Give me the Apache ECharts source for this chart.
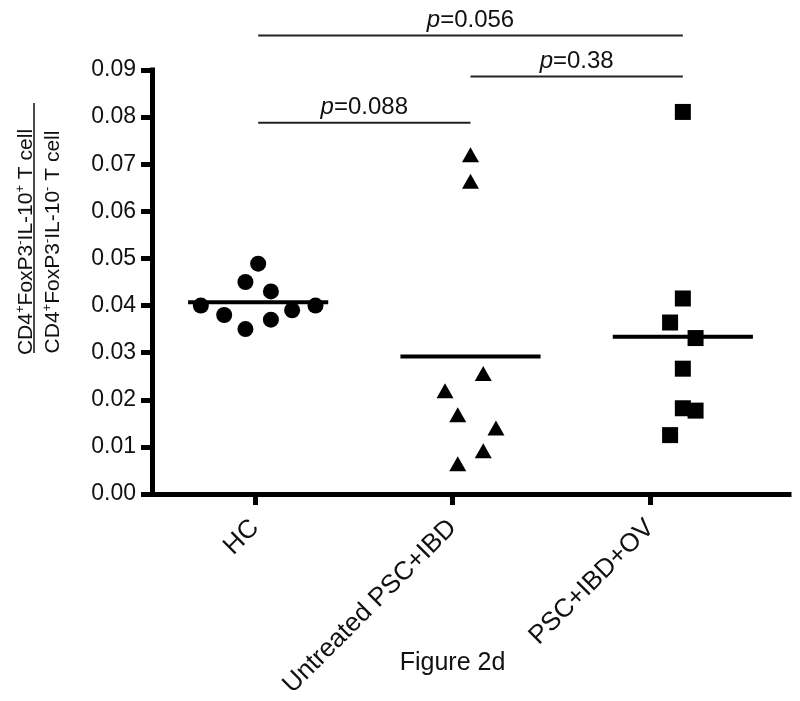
<!DOCTYPE html>
<html><head><meta charset="utf-8">
<script src="https://cdn.jsdelivr.net/npm/echarts@6/dist/echarts.min.js"></script>
<style>html,body{margin:0;padding:0;background:#fff}#c{width:800px;height:701px}</style>
</head><body><div id="c"></div>
<script>
// ---- data ----
const categories = ['HC', 'Untreated PSC+IBD', 'PSC+IBD+OV'];
const hcValues = [0.0489, 0.0450, 0.0430, 0.0400, 0.0400, 0.0380, 0.0390, 0.0370, 0.0350];
const hcJitter = [0, -0.06, 0.06, -0.27, 0.27, -0.16, 0.16, 0.06, -0.06];
const untreatedValues = [0.0720, 0.0664, 0.0256, 0.0219, 0.0168, 0.0140, 0.0092, 0.0064];
const untreatedJitter = [0, 0, 0.06, -0.12, -0.06, 0.12, 0.06, -0.06];
const ovValues = [0.0811, 0.0415, 0.0364, 0.0331, 0.0266, 0.0182, 0.0177, 0.0125];
const ovJitter = [0, 0, -0.06, 0.06, 0, 0, 0.06, -0.06];
const groupMeans = [0.0407, 0.0292, 0.0334];
const comparisons = [[0, 1], [1, 2], [0, 2]];
const pValues = ['0.088', '0.38', '0.056'];
const bracketLevels = [0.0788, 0.0886, 0.0973];
const yMin = 0, yMax = 0.09, yStep = 0.01;

const FONT = '"Liberation Sans", Arial, Helvetica, sans-serif';
const INK = '#111';
const meanHalfWidth = 0.33;

function pts(vals, jit, g) { return vals.map((v, i) => [g + jit[i], v]); }

const series = [];
const groups = [
  { vals: hcValues, jit: hcJitter, symbol: 'circle', size: 16 },
  { vals: untreatedValues, jit: untreatedJitter, symbol: 'triangle', size: [17, 15] },
  { vals: ovValues, jit: ovJitter, symbol: 'rect', size: 16 }
];
groups.forEach((g, gi) => {
  series.push({
    type: 'scatter', xAxisIndex: 0, yAxisIndex: 0,
    symbol: g.symbol, symbolSize: g.size,
    itemStyle: { color: '#000', opacity: 1 },
    data: pts(g.vals, g.jit, gi), z: 3
  });
  series.push({
    type: 'line', xAxisIndex: 0, yAxisIndex: 0, symbol: 'none',
    lineStyle: { color: '#000', width: 4 },
    data: [[gi - meanHalfWidth, groupMeans[gi]], [gi + meanHalfWidth, groupMeans[gi]]], z: 4
  });
});
comparisons.forEach((c, k) => {
  series.push({
    type: 'line', xAxisIndex: 0, yAxisIndex: 0, symbol: 'none', clip: false,
    lineStyle: { color: '#222', width: 2 },
    data: [[c[0], bracketLevels[k]], [c[1], bracketLevels[k]]]
  });
});
series.push({
  type: 'scatter', xAxisIndex: 0, yAxisIndex: 0, clip: false,
  symbolSize: 1, itemStyle: { color: 'rgba(0,0,0,0)', opacity: 1 },
  data: comparisons.map((c, k) => ({ value: [(c[0] + c[1]) / 2, bracketLevels[k]], p: pValues[k] })),
  label: {
    show: true, position: 'top', distance: 3,
    formatter: (d) => '{i|p}=' + d.data.p,
    fontSize: 24, fontFamily: FONT, color: INK,
    rich: { i: { fontStyle: 'italic', fontSize: 24, fontFamily: FONT, color: INK } }
  },
  z: 5
});

const supRich = {
  n: { fontSize: 21, fontFamily: FONT, color: INK, lineHeight: 25 },
  s: { fontSize: 13, fontFamily: FONT, color: INK, lineHeight: 13, verticalAlign: 'top' }
};
const numText = '{n|CD4}{s|+}{n|FoxP3}{s|-}{n|IL-10}{s|+}{n| T cell}';
const denText = '{n|CD4}{s|+}{n|FoxP3}{s|-}{n|IL-10}{s|-}{n| T cell}';

const option = {
  animation: false,
  backgroundColor: '#fff',
  grid: [
    { left: 152, right: 11, top: 70, bottom: 207, outerBoundsMode: 'none', containLabel: false },
    { left: 156, right: 51, top: 70, bottom: 207, outerBoundsMode: 'none', containLabel: false }
  ],
  xAxis: [
    {
      type: 'value', gridIndex: 0, min: -0.5, max: 2.5,
      axisLine: { show: true, onZero: false, lineStyle: { color: '#000', width: 5, cap: 'square' } },
      axisTick: { show: false }, axisLabel: { show: false }, splitLine: { show: false }
    },
    {
      type: 'category', gridIndex: 1, data: categories, boundaryGap: true,
      axisLine: { show: false, onZero: false },
      axisTick: { show: true, alignWithLabel: true, length: 11, lineStyle: { color: '#000', width: 5 } },
      axisLabel: { interval: 0, rotate: 45, fontSize: 26, margin: 30, color: INK, fontFamily: FONT },
      name: 'Figure 2d', nameLocation: 'middle', nameGap: 157, nameMoveOverlap: false,
      nameTextStyle: { fontSize: 25, color: INK, fontFamily: FONT }
    }
  ],
  yAxis: [
    {
      type: 'value', gridIndex: 0, min: yMin, max: yMax, interval: yStep,
      axisLine: { show: true, onZero: false, lineStyle: { color: '#000', width: 5, cap: 'square' } },
      axisTick: { show: true, length: 11, lineStyle: { color: '#000', width: 5 } },
      axisLabel: { formatter: (v) => v.toFixed(2), fontSize: 23, margin: 16, color: INK, fontFamily: FONT },
      splitLine: { show: false }
    },
    { type: 'value', gridIndex: 1, min: yMin, max: yMax, show: false, splitLine: { show: false } }
  ],
  graphic: [
    { type: 'text', x: 26, y: 242, rotation: Math.PI / 2,
      style: { text: numText, rich: supRich, align: 'center', verticalAlign: 'middle', fill: INK, fontSize: 21, fontFamily: FONT } },
    { type: 'line', shape: { x1: 34, y1: 103, x2: 34, y2: 353 }, style: { stroke: INK, lineWidth: 1.5 } },
    { type: 'text', x: 53, y: 242, rotation: Math.PI / 2,
      style: { text: denText, rich: supRich, align: 'center', verticalAlign: 'middle', fill: INK, fontSize: 21, fontFamily: FONT } }
  ],
  series: series
};

const chart = echarts.init(document.getElementById('c'), null, { renderer: 'canvas' });
chart.setOption(option);
</script>
</body></html>
